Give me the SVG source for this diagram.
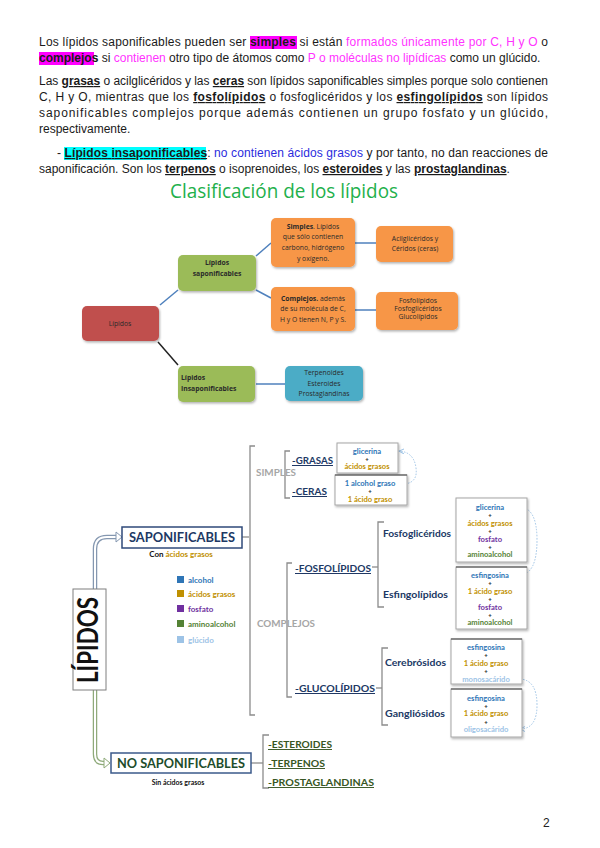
<svg xmlns="http://www.w3.org/2000/svg" width="600" height="848" viewBox="0 0 600 848">
<defs>
<style>
.p{font-family:"Liberation Sans",Arial,sans-serif;font-size:12px;fill:#1a1a1a}
.b{font-weight:bold}
.u{font-weight:bold;text-decoration:underline}
.pk{fill:#ff33ff}
.bl{fill:#2b2bdd}
.cm{font-family:"Open Sans","Noto Sans",sans-serif;font-size:6.8px;fill:#2a2a2a;text-anchor:middle}
.cs{font-family:"Open Sans","Noto Sans",sans-serif;font-size:6.8px;fill:#2a2a2a;font-weight:bold}
.cl{stroke:#4f81bd;stroke-width:1.5;fill:none}
.lb{font-family:Lato,"Noto Sans",sans-serif;font-weight:bold}
.nv{fill:#203864}
.it{font-family:Lato,"Noto Sans",sans-serif;font-weight:bold;font-size:7.6px;text-anchor:middle}
.ps{font-family:Lato,"Noto Sans",sans-serif;font-weight:bold;font-size:6px;text-anchor:middle;fill:#222}
.c1{fill:#2e75b6}.c2{fill:#bf9000}.c3{fill:#7030a0}.c4{fill:#548235}.c5{fill:#9dc3e6}
.br{fill:none;stroke:#8c8c8c;stroke-width:1.3}
.bx{fill:#fff;stroke:#a6a6a6;stroke-width:1}
.dt{fill:none;stroke:#9dc3e6;stroke-width:1;stroke-dasharray:1.5 1.5}
</style>
<filter id="sh" x="-10%" y="-10%" width="130%" height="140%"><feDropShadow dx="1" dy="1.5" stdDeviation="1" flood-color="#000" flood-opacity="0.3"/></filter>
<marker id="ah" markerWidth="6" markerHeight="6" refX="5" refY="3" orient="auto"><path d="M0,0.5 L5,3 L0,5.5" fill="none" stroke="#9dc3e6" stroke-width="1"/></marker>
</defs>
<rect width="600" height="848" fill="#fff"/>

<g id="texto">
<rect x="250" y="36" width="47" height="13" fill="#ff00ff"/>
<rect x="39" y="52" width="55" height="13" fill="#ff00ff"/>
<rect x="64" y="147" width="142" height="13" fill="#00ffff"/>
<text class="p" x="39" y="46" textLength="509" lengthAdjust="spacing">Los lípidos saponificables pueden ser <tspan class="b">simples</tspan> si están <tspan class="pk">formados únicamente por C, H y O</tspan> o</text>
<text class="p" x="39" y="62"><tspan class="b">complejos</tspan> si <tspan class="pk">contienen</tspan> otro tipo de átomos como <tspan class="pk">P o moléculas no lipídicas</tspan> como un glúcido.</text>
<text class="p" x="39" y="85" textLength="509" lengthAdjust="spacing">Las <tspan class="u">grasas</tspan> o acilglicéridos y las <tspan class="u">ceras</tspan> son lípidos saponificables simples porque solo contienen</text>
<text class="p" x="39" y="101" textLength="509" lengthAdjust="spacing">C, H y O, mientras que los <tspan class="u">fosfolípidos</tspan> o fosfoglicéridos y los <tspan class="u">esfingolípidos</tspan> son lípidos</text>
<text class="p" x="39" y="117" textLength="509" lengthAdjust="spacing">saponificables complejos porque además contienen un grupo fosfato y un glúcido,</text>
<text class="p" x="39" y="133">respectivamente.</text>
<text class="p" x="57" y="157" textLength="491" lengthAdjust="spacing">- <tspan class="u">Lípidos insaponificables</tspan>: <tspan class="bl">no contienen ácidos grasos</tspan> y por tanto, no dan reacciones de</text>
<text class="p" x="39" y="173">saponificación. Son los <tspan class="u">terpenos</tspan> o isoprenoides, los <tspan class="u">esteroides</tspan> y las <tspan class="u">prostaglandinas</tspan>.</text>
<text x="170" y="198" font-family="'Open Sans','Noto Sans',sans-serif" font-size="20" fill="#22b04b" textLength="228" lengthAdjust="spacingAndGlyphs">Clasificación de los lípidos</text>
</g>

<g id="mapa-conectores">
<line class="cl" x1="160" y1="305" x2="178" y2="290"/>
<line class="cl" x1="256" y1="256" x2="271" y2="243"/>
<line class="cl" x1="256" y1="290" x2="271" y2="298"/>
<line x1="158" y1="342" x2="178" y2="365" stroke="#222" stroke-width="1.5"/>
<line class="cl" x1="256" y1="384" x2="285" y2="384"/>
<line class="cl" x1="355" y1="243" x2="376" y2="243"/>
<line class="cl" x1="355" y1="310" x2="376" y2="310"/>
</g>
<g id="m-lipidos"><rect x="82" y="306" width="77" height="35" rx="5" fill="#c0504d" filter="url(#sh)"/><text class="cm" x="120" y="326" fill="#4a1414">Lípidos</text></g>
<g id="m-saponificables"><rect x="178" y="255" width="78" height="36" rx="5" fill="#9bbb59" filter="url(#sh)"/><text class="cm b" x="217" y="265">Lípidos</text><text class="cm b" x="217" y="276">saponificables</text></g>
<g id="m-simples"><rect x="271" y="218" width="84" height="49" rx="5" fill="#f79646" filter="url(#sh)"/><text class="cm" x="313" y="229"><tspan class="b">Simples</tspan>. Lípidos</text><text class="cm" x="313" y="239">que sólo contienen</text><text class="cm" x="313" y="250">carbono, hidrógeno</text><text class="cm" x="313" y="261">y oxígeno.</text></g>
<g id="m-complejos"><rect x="271" y="287" width="84" height="44" rx="5" fill="#f79646" filter="url(#sh)"/><text class="cm" x="313" y="301"><tspan class="b">Complejos.</tspan> además</text><text class="cm" x="313" y="311">de su molécula de C,</text><text class="cm" x="313" y="322">H y O tienen N, P y S.</text></g>
<g id="m-acil"><rect x="376" y="226" width="77" height="36" rx="5" fill="#f79646" filter="url(#sh)"/><text class="cm" x="415" y="241">Acilglicéridos y</text><text class="cm" x="415" y="251">Céridos (ceras)</text></g>
<g id="m-fosfo"><rect x="376" y="292" width="82" height="38" rx="5" fill="#f79646" filter="url(#sh)"/><text class="cm" x="418" y="303">Fosfolípidos</text><text class="cm" x="418" y="311">Fosfoglicéridos</text><text class="cm" x="418" y="319">Glucolípidos</text></g>
<g id="m-insap"><rect x="178" y="366" width="77" height="36" rx="5" fill="#9bbb59" filter="url(#sh)"/><text class="cs" x="181" y="380">Lípidos</text><text class="cs" x="181" y="391">Insaponificables</text></g>
<g id="m-terpen"><rect x="285" y="366" width="78" height="35" rx="5" fill="#4bacc6" filter="url(#sh)"/><text class="cm" x="324" y="375">Terpenoides</text><text class="cm" x="324" y="386">Esteroides</text><text class="cm" x="324" y="396">Prostaglandinas</text></g>

<g id="conectores">
<path d="M95,589 V549 Q95,537 107,537 H117" fill="none" stroke="#8497b0" stroke-width="4.5"/>
<path d="M95,589 V549 Q95,537 107,537 H118" fill="none" stroke="#fff" stroke-width="2"/>
<path d="M116,532 L122,537 L116,542 Z" fill="#fff" stroke="#8497b0" stroke-width="1"/>
<path d="M95,690 V754 Q95,763 103,763 H105" fill="none" stroke="#8faa7a" stroke-width="4.5"/>
<path d="M95,690 V754 Q95,763 103,763 H106" fill="none" stroke="#fff" stroke-width="2"/>
<path d="M104,758 L110,763 L104,768 Z" fill="#fff" stroke="#8faa7a" stroke-width="1"/>
<path class="br" d="M255,446 H250 V715 H255"/>
<line class="br" x1="242" y1="537" x2="249" y2="537"/>
<path class="br" d="M290,451 H285 V498 H290"/>
<path class="br" d="M292,563 H287 V697 H292"/>
<line class="br" x1="372" y1="567" x2="378" y2="567"/>
<path class="br" d="M384,522 H378 V607 H384"/>
<line class="br" x1="376" y1="688" x2="382" y2="688"/>
<path class="br" d="M388,648 H382 V725 H388"/>
<line class="br" x1="251" y1="763" x2="263" y2="763"/>
<path class="br" d="M269,735 H263 V788 H269"/>
<path class="dt" d="M405,484 Q418,482 416,468 Q414,452 399,451" marker-end="url(#ah)"/>
<path class="dt" d="M520,507 Q537,508 537,540 Q537,574 520,575" marker-end="url(#ah)"/>
<path class="dt" d="M520,679 Q537,680 537,705 Q537,729 520,729" marker-end="url(#ah)"/>
</g>

<g id="lipidos"><rect x="73" y="589" width="33" height="101" fill="#fff" stroke="#7f7f7f" stroke-width="1"/><text class="lb" transform="translate(98,640) rotate(-90)" font-size="29" font-weight="900" text-anchor="middle" fill="#111" textLength="86" lengthAdjust="spacingAndGlyphs">LÍPIDOS</text></g>

<g id="saponificables"><rect x="122" y="527" width="120" height="21" fill="#fff" stroke="#2f4a7a" stroke-width="1.5"/><text class="lb nv" x="182" y="542" font-size="12.5" text-anchor="middle" textLength="106" lengthAdjust="spacingAndGlyphs">SAPONIFICABLES</text><text class="lb" x="181" y="557" font-size="8" text-anchor="middle"><tspan fill="#111">Con </tspan><tspan class="c2">ácidos grasos</tspan></text></g>

<g id="leyenda">
<rect x="177" y="576" width="7" height="7" class="c1"/><text class="lb c1" x="188" y="583" font-size="8">alcohol</text>
<rect x="177" y="590" width="7" height="7" class="c2"/><text class="lb c2" x="188" y="597" font-size="8">ácidos grasos</text>
<rect x="177" y="605" width="7" height="7" class="c3"/><text class="lb c3" x="188" y="612" font-size="8">fosfato</text>
<rect x="177" y="620" width="7" height="7" class="c4"/><text class="lb c4" x="188" y="627" font-size="8">aminoalcohol</text>
<rect x="177" y="636" width="7" height="7" class="c5"/><text class="lb c5" x="188" y="643" font-size="8">glúcido</text>
</g>

<g id="simples"><text class="lb" x="256" y="476" font-size="9" fill="#a6a6a6" textLength="40" lengthAdjust="spacingAndGlyphs">SIMPLES</text></g>
<g id="grasas"><text class="lb nv" x="292" y="464" font-size="10" text-decoration="underline" textLength="41" lengthAdjust="spacingAndGlyphs">-GRASAS</text>
<rect class="bx" x="337" y="443" width="61" height="30" filter="url(#sh)"/>
<text class="it c1" x="367" y="454">glicerina</text><text class="ps" x="367" y="461">+</text><text class="it c2" x="367" y="469">ácidos grasos</text></g>
<g id="ceras"><text class="lb nv" x="292" y="495" font-size="10" text-decoration="underline" textLength="35" lengthAdjust="spacingAndGlyphs">-CERAS</text>
<rect class="bx" x="335" y="475" width="72" height="30" filter="url(#sh)"/><line x1="335" y1="475" x2="407" y2="475" stroke="#444" stroke-width="1.2"/>
<text class="it c1" x="370" y="486">1 alcohol graso</text><text class="ps" x="370" y="493">+</text><text class="it c2" x="370" y="502">1 ácido graso</text></g>

<g id="complejos"><text class="lb" x="257" y="627" font-size="9" fill="#a6a6a6" textLength="58" lengthAdjust="spacingAndGlyphs">COMPLEJOS</text></g>
<g id="fosfolipidos"><text class="lb nv" x="295" y="572" font-size="10" text-decoration="underline" textLength="76" lengthAdjust="spacingAndGlyphs">-FOSFOLÍPIDOS</text></g>
<g id="glucolipidos"><text class="lb nv" x="295" y="692" font-size="10" text-decoration="underline" textLength="80" lengthAdjust="spacingAndGlyphs">-GLUCOLÍPIDOS</text></g>

<g id="fosfogliceridos"><text class="lb nv" x="383" y="537" font-size="9.5" textLength="68" lengthAdjust="spacingAndGlyphs">Fosfoglicéridos</text>
<rect class="bx" x="456" y="498" width="71" height="64" filter="url(#sh)"/>
<text class="it c1" x="490" y="510">glicerina</text><text class="ps" x="490" y="517">+</text><text class="it c2" x="490" y="526">ácidos grasos</text><text class="ps" x="490" y="533">+</text><text class="it c3" x="490" y="542">fosfato</text><text class="ps" x="490" y="549">+</text><text class="it c4" x="490" y="557">aminoalcohol</text></g>
<g id="esfingolipidos"><text class="lb nv" x="383" y="598" font-size="9.5" textLength="65" lengthAdjust="spacingAndGlyphs">Esfingolípidos</text>
<rect class="bx" x="456" y="567" width="71" height="62" filter="url(#sh)"/><line x1="456" y1="567" x2="527" y2="567" stroke="#444" stroke-width="1.2"/>
<text class="it c1" x="490" y="578">esfingosina</text><text class="ps" x="490" y="585">+</text><text class="it c2" x="490" y="594">1 ácido graso</text><text class="ps" x="490" y="601">+</text><text class="it c3" x="490" y="610">fosfato</text><text class="ps" x="490" y="617">+</text><text class="it c4" x="490" y="625">aminoalcohol</text></g>

<g id="cerebrosidos"><text class="lb nv" x="385" y="666" font-size="9.5" textLength="61" lengthAdjust="spacingAndGlyphs">Cerebrósidos</text>
<rect class="bx" x="451" y="639" width="71" height="45" filter="url(#sh)"/><line x1="451" y1="639" x2="522" y2="639" stroke="#444" stroke-width="1.2"/>
<text class="it c1" x="486" y="650">esfingosina</text><text class="ps" x="486" y="657">+</text><text class="it c2" x="486" y="666">1 ácido graso</text><text class="ps" x="486" y="673">+</text><text class="it c5" x="486" y="682">monosacárido</text></g>
<g id="gangliosidos"><text class="lb nv" x="385" y="717" font-size="9.5" textLength="60" lengthAdjust="spacingAndGlyphs">Gangliósidos</text>
<rect class="bx" x="451" y="689" width="71" height="48" filter="url(#sh)"/><line x1="451" y1="689" x2="522" y2="689" stroke="#444" stroke-width="1.2"/>
<text class="it c1" x="486" y="701">esfingosina</text><text class="ps" x="486" y="708">+</text><text class="it c2" x="486" y="716">1 ácido graso</text><text class="ps" x="486" y="724">+</text><text class="it c5" x="486" y="732">oligosacárido</text></g>

<g id="no-saponificables"><rect x="111" y="753" width="140" height="20" fill="#fff" stroke="#3b5a8a" stroke-width="1.5"/><text class="lb" x="181" y="768" font-size="12.5" text-anchor="middle" fill="#1e4d2b" textLength="128" lengthAdjust="spacingAndGlyphs">NO SAPONIFICABLES</text><text class="lb" x="178" y="785" font-size="7" text-anchor="middle" fill="#111">Sin ácidos grasos</text></g>
<g id="esteroides"><text class="lb" x="268" y="748" font-size="9.5" fill="#375623" text-decoration="underline" textLength="64" lengthAdjust="spacingAndGlyphs">-ESTEROIDES</text></g>
<g id="terpenos"><text class="lb" x="268" y="767" font-size="9.5" fill="#375623" text-decoration="underline" textLength="57" lengthAdjust="spacingAndGlyphs">-TERPENOS</text></g>
<g id="prostaglandinas"><text class="lb" x="268" y="786" font-size="9.5" fill="#375623" text-decoration="underline" textLength="106" lengthAdjust="spacingAndGlyphs">-PROSTAGLANDINAS</text></g>

<text x="543" y="827" font-family="'Liberation Sans',Arial,sans-serif" font-size="12" fill="#222">2</text>
</svg>
